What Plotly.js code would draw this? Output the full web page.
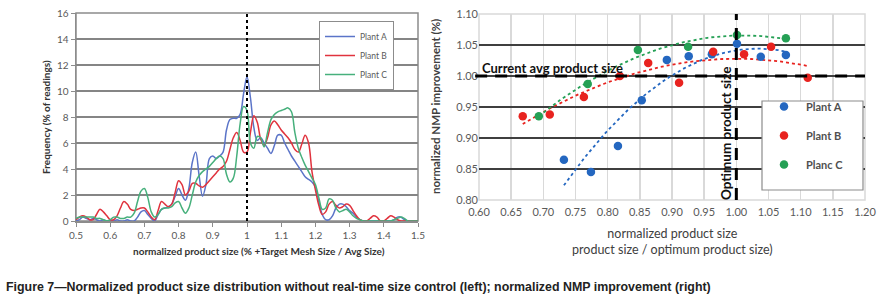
<!DOCTYPE html>
<html><head><meta charset="utf-8">
<script src="https://cdn.plot.ly/plotly-3.0.1.min.js"></script>
<style>html,body{margin:0;padding:0;background:#fff;} #chart{width:892px;height:302px;}</style>
</head><body><div id="chart"></div>
<script>
// ---------- Left chart data (frequency distribution) ----------
const sizeBins = [0.50,0.51,0.52,0.53,0.54,0.55,0.56,0.57,0.58,0.59,
  0.60,0.61,0.62,0.63,0.64,0.65,0.66,0.67,0.68,0.69,
  0.70,0.71,0.72,0.73,0.74,0.75,0.76,0.77,0.78,0.79,
  0.80,0.81,0.82,0.83,0.84,0.85,0.86,0.87,0.88,0.89,
  0.90,0.91,0.92,0.93,0.94,0.95,0.96,0.97,0.98,0.99,
  1.00,1.01,1.02,1.03,1.04,1.05,1.06,1.07,1.08,1.09,
  1.10,1.11,1.12,1.13,1.14,1.15,1.16,1.17,1.18,1.19,
  1.20,1.21,1.22,1.23,1.24,1.25,1.26,1.27,1.28,1.29,
  1.30,1.31,1.32,1.33,1.34,1.35,1.36,1.37,1.38,1.39,
  1.40,1.41,1.42,1.43,1.44,1.45,1.46,1.47,1.48,1.49,1.50];
const plantA = [0,0.1,0.3,0.2,0.1,0.2,0.1,0,0.1,0,
  0,0,0.1,0,0,0.1,0,0,0.3,0.7,
  0.8,0.5,0.2,0,0.5,0.9,1.0,1.1,1.3,1.9,
  2.5,2.0,1.6,2.5,4.5,5.3,3.5,1.9,2.8,4.8,
  5.0,4.8,5.0,5.3,7.0,7.8,7.9,7.9,8.2,9.8,
  11.1,9.5,7.2,6.2,6.4,6.0,5.6,5.2,5.8,6.6,
  6.6,6.0,5.5,5.0,4.6,4.2,3.8,3.4,3.2,3.0,
  2.6,1.5,0.5,0.1,0.1,0.4,1.0,1.3,1.3,1.1,
  0.8,0.6,0.3,0.1,0,0,0,0,0,0,
  0,0,0,0.1,0.3,0.3,0.1,0,0,0,0];
const plantB = [0.1,0.3,0.4,0.3,0.1,0.1,0.5,0.9,0.7,0.4,
  0.1,0.1,0.4,1.0,1.5,1.3,0.9,0.8,0.9,1.0,
  1.0,0.7,0.3,0.1,0.8,1.5,1.3,1.1,1.3,2.2,
  3.1,2.8,2.0,2.3,2.9,2.9,2.7,2.6,2.8,3.1,
  3.4,3.7,4.0,4.2,4.6,5.5,6.4,6.8,6.2,5.3,
  5.3,6.8,8.1,7.6,6.3,5.8,6.4,7.4,7.7,7.4,
  7.0,6.7,6.4,6.0,5.5,5.3,5.9,6.6,6.0,3.8,
  2.4,1.2,0.5,0.7,1.3,1.5,1.2,1.0,1.1,1.3,
  1.2,0.8,0.4,0.1,0,0,0.2,0.4,0.3,0,
  0,0.2,0.4,0.3,0.1,0,0,0,0,0,0];
const plantC = [0.2,0.3,0.3,0.3,0.3,0.3,0.2,0.2,0.1,0,
  0.1,0.3,0.3,0.2,0.2,0.3,0.3,0.6,1.5,2.3,
  2.5,1.8,0.7,0.3,0.5,0.9,1.0,1.0,1.1,1.4,
  1.5,1.0,0.6,1.0,2.0,3.0,3.5,3.8,4.0,4.2,
  4.5,4.8,5.0,4.8,3.6,3.0,3.3,5.0,7.5,8.8,
  8.5,6.0,5.6,6.5,6.4,5.7,6.8,7.8,8.2,8.4,
  8.5,8.6,8.7,8.4,6.8,5.6,4.9,4.3,3.8,3.3,
  2.8,1.8,0.9,1.0,1.7,1.6,1.0,0.7,0.8,0.9,
  0.7,0.4,0.2,0.1,0,0,0,0,0,0,
  0,0,0,0.1,0.2,0.3,0.2,0,0,0,0];
const leftXTicks = [0.5,0.6,0.7,0.8,0.9,1.0,1.1,1.2,1.3,1.4,1.5];
const leftXTickText = ['0.5','0.6','0.7','0.8','0.9','1','1.1','1.2','1.3','1.4','1.5'];
const leftYTicks = [0,2,4,6,8,10,12,14,16];
const leftNames = ['Plant A','Plant B','Plant C'];

// ---------- Right chart data (NMP improvement) ----------
const nmpAx = [0.732,0.774,0.816,0.853,0.892,0.926,0.962,1.001,1.038,1.077];
const nmpAy = [0.865,0.845,0.887,0.961,1.026,1.032,1.035,1.052,1.031,1.034];
const nmpBx = [0.668,0.710,0.763,0.819,0.863,0.911,0.964,1.012,1.054,1.111];
const nmpBy = [0.935,0.938,0.966,1.000,1.021,0.989,1.039,1.035,1.047,0.997];
const nmpCx = [0.693,0.769,0.847,0.925,1.001,1.077];
const nmpCy = [0.935,0.987,1.042,1.047,1.066,1.061];
const rightNames = ['Plant A','Plant B','Planc C'];
const rightXTicks = [0.60,0.65,0.70,0.75,0.80,0.85,0.90,0.95,1.00,1.05,1.10,1.15,1.20];
const rightYTicks = [0.80,0.85,0.90,0.95,1.00,1.05,1.10];
const currentAvg = 1.00, optimum = 1.00;

// ---------- helpers ----------
const W = 892, H = 302;
const px = v => v / W, py = v => 1 - v / H;

function fit2(xs, ys) {
  let S = [0,0,0,0,0], T = [0,0,0];
  for (let i = 0; i < xs.length; i++) {
    let p = 1;
    for (let k = 0; k < 5; k++) { S[k] += p; if (k < 3) T[k] += p * ys[i]; p *= xs[i]; }
  }
  const M = [[S[0],S[1],S[2]],[S[1],S[2],S[3]],[S[2],S[3],S[4]]];
  const det = m => m[0][0]*(m[1][1]*m[2][2]-m[1][2]*m[2][1]) - m[0][1]*(m[1][0]*m[2][2]-m[1][2]*m[2][0]) + m[0][2]*(m[1][0]*m[2][1]-m[1][1]*m[2][0]);
  const D = det(M);
  return [0,1,2].map(j => { const m = M.map((r, i) => r.map((v, k) => k === j ? T[i] : v)); return det(m) / D; });
}
function trend(xs, ys) {
  const c = fit2(xs, ys);
  const lo = Math.min(...xs), hi = Math.max(...xs);
  const tx = [], ty = [];
  for (let i = 0; i <= 60; i++) { const x = lo + (hi - lo) * i / 60; tx.push(x); ty.push(c[0] + c[1]*x + c[2]*x*x); }
  return {tx, ty};
}

const lineCols = ['#5b74c8', '#e0333e', '#47b07c'];
const dotCols = ['#2467c0', '#e8231f', '#25a055'];
const FONT = 'Lato, "Liberation Sans", sans-serif';

const traces = [];
[plantA, plantB, plantC].forEach((ys, i) => {
  traces.push({x: sizeBins, y: ys, type: 'scatter', mode: 'lines', name: leftNames[i],
    line: {color: lineCols[i], width: 1.5, shape: 'spline', smoothing: 1},
    xaxis: 'x', yaxis: 'y', legend: 'legend', hoverinfo: 'skip'});
});
const R = [[nmpAx, nmpAy], [nmpBx, nmpBy], [nmpCx, nmpCy]];
R.forEach((d, i) => {
  const t = trend(d[0], d[1]);
  traces.push({x: t.tx, y: t.ty, type: 'scatter', mode: 'lines', showlegend: false,
    line: {color: dotCols[i], width: 1.8, dash: 'dot'}, xaxis: 'x2', yaxis: 'y2', hoverinfo: 'skip'});
});
R.forEach((d, i) => {
  traces.push({x: d[0], y: d[1], type: 'scatter', mode: 'markers', name: rightNames[i],
    marker: {color: dotCols[i], size: 8.5}, xaxis: 'x2', yaxis: 'y2', legend: 'legend2',
    legendgroup: 'g' + i, hoverinfo: 'skip'});
});

const layout = {
  width: W, height: H, margin: {l: 0, r: 0, t: 0, b: 0},
  paper_bgcolor: '#fff', plot_bgcolor: '#fff',
  font: {family: FONT, color: '#595959'},
  xaxis: {domain: [px(76), px(418)], range: [0.5, 1.5], tickvals: leftXTicks, ticktext: leftXTickText,
    showgrid: false, zeroline: false, showline: true, linecolor: '#8c8c8c', linewidth: 1.5,
    ticks: 'outside', ticklen: 4, tickcolor: '#8c8c8c', tickfont: {size: 10, color: '#595959'}},
  yaxis: {domain: [py(221), py(13)], range: [0, 16], tickvals: leftYTicks,
    showgrid: true, gridcolor: '#858585', gridwidth: 1.5, zeroline: false, showline: true, linecolor: '#8c8c8c', linewidth: 1.5,
    ticks: 'outside', ticklen: 4, tickcolor: '#8c8c8c', tickfont: {size: 10, color: '#595959'}},
  xaxis2: {domain: [px(479), px(865)], range: [0.6, 1.2], tickvals: rightXTicks, tickformat: '.2f',
    showgrid: true, gridcolor: '#d9d9d9', gridwidth: 1.5, zeroline: false, showline: false,
    ticks: '', ticklabelstandoff: 4, tickfont: {size: 11, color: '#595959'}, anchor: 'y2'},
  yaxis2: {domain: [py(200), py(14)], range: [0.8, 1.1], tickvals: rightYTicks, tickformat: '.2f',
    showgrid: true, gridcolor: '#3f3f3f', gridwidth: 2, zeroline: false, showline: false,
    ticks: '', tickfont: {size: 11, color: '#595959'}, anchor: 'x2'},
  legend: {x: px(319), y: py(21), xanchor: 'left', yanchor: 'top', bgcolor: '#fff',
    bordercolor: '#8c8c8c', borderwidth: 1, font: {size: 8.5, color: '#595959'}, tracegroupgap: 0,
    itemwidth: 30},
  legend2: {x: px(762), y: py(92), xanchor: 'left', yanchor: 'top', bgcolor: 'rgba(0,0,0,0)',
    borderwidth: 0, font: {size: 11, color: '#505050', weight: 'bold'}, tracegroupgap: 10, itemwidth: 34},
  shapes: [
    {type: 'rect', xref: 'x domain', yref: 'y domain', x0: 0, x1: 1, y0: 0, y1: 1, line: {color: '#8c8c8c', width: 1.5}, layer: 'below'},
    {type: 'line', xref: 'x', yref: 'y domain', x0: 1.0, x1: 1.0, y0: 0, y1: 1, line: {color: '#000', width: 2, dash: 'dot'}},
    {type: 'rect', xref: 'x2 domain', yref: 'y2 domain', x0: 0, x1: 1, y0: 0, y1: 1, line: {color: '#d9d9d9', width: 1.5}, layer: 'below'},
    {type: 'line', xref: 'x2 domain', yref: 'y2', x0: 0, x1: 1, y0: currentAvg, y1: currentAvg, line: {color: '#fff', width: 3}, layer: 'below'},
    {type: 'line', xref: 'x2 domain', yref: 'y2', x0: -0.01, x1: 1, y0: currentAvg, y1: currentAvg, line: {color: '#000', width: 3, dash: '12px,8px'}},
    {type: 'line', xref: 'x2', yref: 'y2 domain', x0: optimum, x1: optimum, y0: 0, y1: 1, line: {color: '#000', width: 3, dash: '12px,8px'}},
    {type: 'rect', xref: 'paper', yref: 'paper', x0: px(762), x1: px(863), y0: py(101), y1: py(190),
      fillcolor: '#fff', line: {color: '#8c8c8c', width: 1.2}, layer: 'above'}
  ],
  annotations: [
    {text: 'Frequency (% of readings)', xref: 'paper', yref: 'paper', x: px(46), y: py(117), textangle: -90,
      showarrow: false, font: {size: 10, color: '#333', family: FONT, weight: 'bold'}, xanchor: 'center', yanchor: 'middle'},
    {text: 'normalized product size (% +Target Mesh Size / Avg Size)', xref: 'paper', yref: 'paper', x: px(259), y: py(251),
      showarrow: false, font: {size: 10, color: '#333', family: FONT, weight: 'bold'}, xanchor: 'center', yanchor: 'middle'},
    {text: 'normalized NMP improvement (%)', xref: 'paper', yref: 'paper', x: px(436), y: py(107), textangle: -90,
      showarrow: false, font: {size: 11.5, color: '#404040', family: FONT, weight: 'bold'}, xanchor: 'center', yanchor: 'middle'},
    {text: 'normalized product size<br>product size / optimum product size)', xref: 'paper', yref: 'paper', x: px(672), y: py(241),
      showarrow: false, font: {size: 12.5, color: '#404040', family: FONT}, xanchor: 'center', yanchor: 'middle'},
    {text: 'Current avg product size', xref: 'paper', yref: 'paper', x: px(480), y: py(68),
      showarrow: false, font: {size: 13, color: '#111', family: FONT, weight: 'bold'}, xanchor: 'left', yanchor: 'middle'},
    {text: 'Optimum product size', xref: 'paper', yref: 'paper', x: px(726), y: py(133), textangle: -90,
      showarrow: false, font: {size: 13.5, color: '#111', family: FONT, weight: 'bold'}, xanchor: 'center', yanchor: 'middle'},
    {text: 'Figure 7\u2014Normalized product size distribution without real-time size control (left); normalized NMP improvement (right)',
      xref: 'paper', yref: 'paper', x: px(4), y: py(287), showarrow: false, xanchor: 'left', yanchor: 'middle',
      font: {size: 12.4, color: '#222', family: '"Liberation Sans Narrow", "Liberation Sans", Arial, sans-serif', weight: 'bold'}}
  ]
};
Plotly.newPlot('chart', traces, layout, {displayModeBar: false, staticPlot: true});
</script></body></html>
